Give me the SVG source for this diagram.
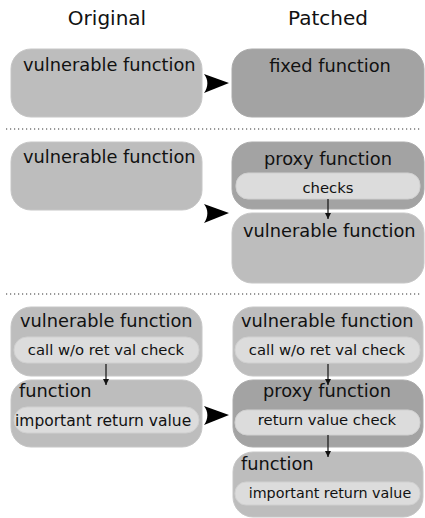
<svg xmlns="http://www.w3.org/2000/svg" width="425" height="518" viewBox="0 0 425 518">
<style>
text{font-family:"DejaVu Sans","Liberation Sans",sans-serif;fill:#111}
.h{font-size:20px}
.m{font-size:17.8px}
.s{font-size:14.8px}
.lt{fill:#bdbdbd;stroke:#c6c6c6;stroke-width:1}
.dk{fill:#a3a3a3;stroke:#aaaaaa;stroke-width:1}
.in{fill:#dcdcdc;stroke:#d0d0d0;stroke-width:1}
.sep{stroke:#333;stroke-width:1.2;stroke-dasharray:1.2 2.8;fill:none}
.c{stroke:#111;stroke-width:1.2;fill:none;marker-end:url(#sm)}
.big{fill:#000}
</style>
<defs>
<marker id="sm" viewBox="0 0 6 6" refX="6" refY="3" markerWidth="6" markerHeight="6" markerUnits="userSpaceOnUse" orient="auto">
<path d="M0,0 L6,3 L0,6 Z" fill="#111"/>
</marker>
</defs>
<g id="headers">
<text class="h" x="107" y="25" text-anchor="middle">Original</text>
<text class="h" x="328" y="25" text-anchor="middle">Patched</text>
</g>
<g id="separators">
<line class="sep" x1="6" y1="129" x2="420" y2="129"/>
<line class="sep" x1="6" y1="294" x2="420" y2="294"/>
</g>
<g id="s1-orig">
<rect class="lt" x="11" y="49" width="191" height="68" rx="20"/>
<text class="m" x="23" y="71">vulnerable function</text>
</g>
<g id="s1-patched">
<rect class="dk" x="232" y="49" width="192" height="68" rx="20"/>
<text class="m" x="330" y="72" text-anchor="middle">fixed function</text>
</g>
<g id="s2-orig">
<rect class="lt" x="11" y="142" width="191" height="68" rx="20"/>
<text class="m" x="23" y="163">vulnerable function</text>
</g>
<g id="s2-proxy">
<rect class="dk" x="232" y="142" width="192" height="67" rx="20"/>
<text class="m" x="328" y="165" text-anchor="middle">proxy function</text>
</g>
<g id="s2-checks">
<rect class="in" x="236" y="173" width="184" height="26" rx="12"/>
<text class="s" x="328" y="193" text-anchor="middle">checks</text>
</g>
<g id="s2-vuln">
<rect class="lt" x="232" y="213" width="192" height="70" rx="20"/>
<text class="m" x="243" y="237">vulnerable function</text>
</g>
<g id="s3-orig-vuln">
<rect class="lt" x="11" y="307" width="191" height="69" rx="20"/>
<text class="m" x="20" y="327">vulnerable function</text>
</g>
<g id="s3-orig-call">
<rect class="in" x="14" y="337" width="185" height="26" rx="13"/>
<text class="s" x="106" y="355" text-anchor="middle">call w/o ret val check</text>
</g>
<g id="s3-orig-func">
<rect class="lt" x="11" y="380" width="191" height="67" rx="20"/>
<text class="m" x="19" y="397">function</text>
</g>
<g id="s3-orig-ret">
<rect class="in" x="14" y="407" width="185" height="26" rx="13"/>
<text x="15" y="426" style="font-size:15.5px">important return value</text>
</g>
<g id="s3-pat-vuln">
<rect class="lt" x="233" y="307" width="190" height="69" rx="20"/>
<text class="m" x="241" y="327">vulnerable function</text>
</g>
<g id="s3-pat-call">
<rect class="in" x="235" y="337" width="185" height="26" rx="13"/>
<text class="s" x="327" y="355" text-anchor="middle">call w/o ret val check</text>
</g>
<g id="s3-pat-proxy">
<rect class="dk" x="233" y="380" width="190" height="67" rx="20"/>
<text class="m" x="327" y="397" text-anchor="middle">proxy function</text>
</g>
<g id="s3-pat-check">
<rect class="in" x="235" y="410" width="185" height="25" rx="12"/>
<text class="s" x="327" y="425" text-anchor="middle">return value check</text>
</g>
<g id="s3-pat-func">
<rect class="lt" x="233" y="452" width="190" height="65" rx="20"/>
<text class="m" x="241" y="470">function</text>
</g>
<g id="s3-pat-ret">
<rect class="in" x="235" y="482" width="185" height="23" rx="11"/>
<text x="248.7" y="498" style="font-size:14.3px">important return value</text>
</g>
<g id="connectors">
<path class="big" d="M229,83 L204,74 C208.5,79.5 208.5,87 204,93 Z"/>
<path class="big" d="M229,213 L204,204 C208.5,209.5 208.5,217 204,223 Z"/>
<path class="big" d="M229,415 L204,406 C208.5,411.5 208.5,419 204,425 Z"/>
<line class="c" x1="328" y1="199" x2="328" y2="219"/>
<line class="c" x1="106" y1="364" x2="106" y2="385"/>
<line class="c" x1="328" y1="364" x2="328" y2="385"/>
<line class="c" x1="328" y1="435" x2="328" y2="457"/>
</g>
</svg>
